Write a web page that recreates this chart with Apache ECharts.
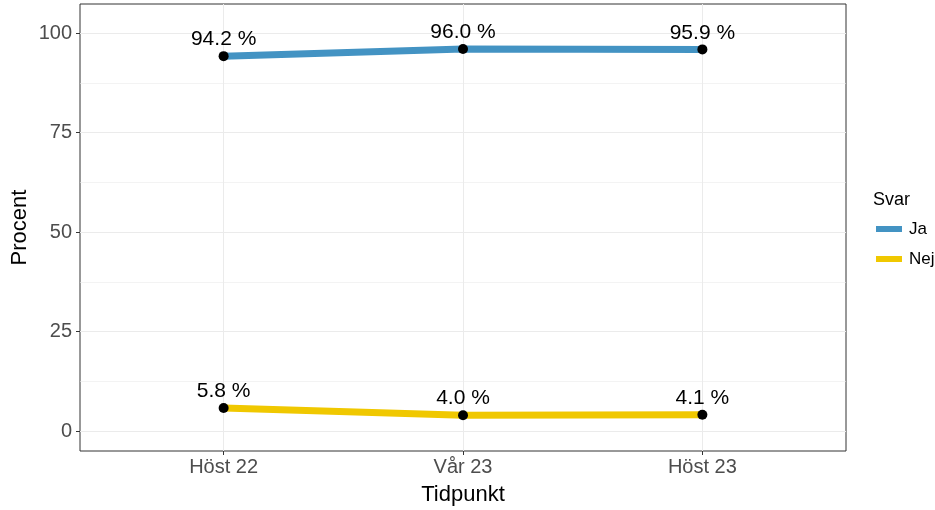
<!DOCTYPE html>
<html>
<head>
<meta charset="utf-8">
<script src="https://cdn.jsdelivr.net/npm/echarts@6/dist/echarts.min.js"></script>
<style>
  html, body { margin: 0; padding: 0; background: #fff; }
  #main { width: 935px; height: 510px; }
</style>
</head>
<body>
<div id="main"></div>
<script>
  // data
  var categories = ['Höst 22', 'Vår 23', 'Höst 23'];
  var jaValues = [94.2, 96.0, 95.9];
  var nejValues = [5.8, 4.0, 4.1];
  var yTicks = [0, 25, 50, 75, 100];
  var yMinor = [12.5, 37.5, 62.5, 87.5];

  var font = '"Liberation Sans", Arial, sans-serif';
  var grey = '#4d4d4d';

  function toPoints(vals) {
    return vals.map(function (v, i) { return [i, v]; });
  }

  var labelOpt = {
    show: true,
    position: 'top',
    distance: 1,
    color: '#000',
    fontSize: 21,
    fontFamily: font,
    formatter: function (p) { return p.value[1].toFixed(1) + ' %'; }
  };

  var myChart = echarts.init(document.getElementById('main'));
  myChart.setOption({
    animation: false,
    textStyle: { fontFamily: font },
    grid: {
      left: 80, right: 89, top: 4, bottom: 59,
      show: true, borderColor: '#333', borderWidth: 1,
      containLabel: false,
      outerBoundsMode: 'none'
    },
    title: {
      text: 'Svar',
      left: 868, top: 186,
      textStyle: { fontSize: 18, fontWeight: 'normal', color: '#000', fontFamily: font }
    },
    legend: {
      orient: 'vertical',
      left: 871, top: 214,
      itemWidth: 26, itemHeight: 6,
      itemGap: 10,
      icon: 'rect',
      textStyle: { fontSize: 17, color: '#000', fontFamily: font, padding: [0, 0, 0, 2], lineHeight: 20 },
      data: [
        { name: 'Ja', itemStyle: { color: '#4393c3' } },
        { name: 'Nej', itemStyle: { color: '#f0c800' } }
      ]
    },
    xAxis: {
      type: 'value',
      min: -0.6, max: 2.6,
      name: 'Tidpunkt',
      nameLocation: 'middle',
      nameGap: 33,
      nameMoveOverlap: false,
      nameTextStyle: { fontSize: 22, color: '#000', fontFamily: font },
      axisLine: { show: false, onZero: false },
      axisTick: { show: true, length: 4, customValues: [0, 1, 2], lineStyle: { color: '#333' } },
      axisLabel: {
        customValues: [0, 1, 2],
        margin: 6,
        fontSize: 20, color: grey, fontFamily: font,
        formatter: function (v) { return categories[Math.round(v)]; }
      },
      splitLine: { show: true, lineStyle: { color: '#ebebeb', width: 1 } }
    },
    yAxis: {
      type: 'value',
      min: -5, max: 107.3,
      name: 'Procent',
      nameLocation: 'middle',
      nameGap: 49,
      nameMoveOverlap: false,
      nameTextStyle: { fontSize: 22, color: '#000', fontFamily: font },
      axisLine: { show: false, onZero: false },
      axisTick: { show: true, length: 4, customValues: yTicks, lineStyle: { color: '#333' } },
      axisLabel: {
        customValues: yTicks,
        margin: 8,
        fontSize: 20, color: grey, fontFamily: font
      },
      splitLine: { show: true, lineStyle: { color: '#ebebeb', width: 1 } }
    },
    series: [
      {
        name: 'Ja',
        type: 'line',
        data: toPoints(jaValues),
        symbol: 'circle',
        symbolSize: 10,
        itemStyle: { color: '#000' },
        lineStyle: { color: '#4393c3', width: 7 },
        label: labelOpt,
        z: 3,
        markLine: {
          silent: true,
          symbol: 'none',
          label: { show: false },
          lineStyle: { color: '#ebebeb', width: 0.6, type: 'solid' },
          data: yMinor.map(function (v) { return { yAxis: v }; }),
          z: 1
        }
      },
      {
        name: 'Nej',
        type: 'line',
        data: toPoints(nejValues),
        symbol: 'circle',
        symbolSize: 10,
        itemStyle: { color: '#000' },
        lineStyle: { color: '#f0c800', width: 7 },
        label: labelOpt,
        z: 3
      }
    ]
  });
</script>
</body>
</html>
